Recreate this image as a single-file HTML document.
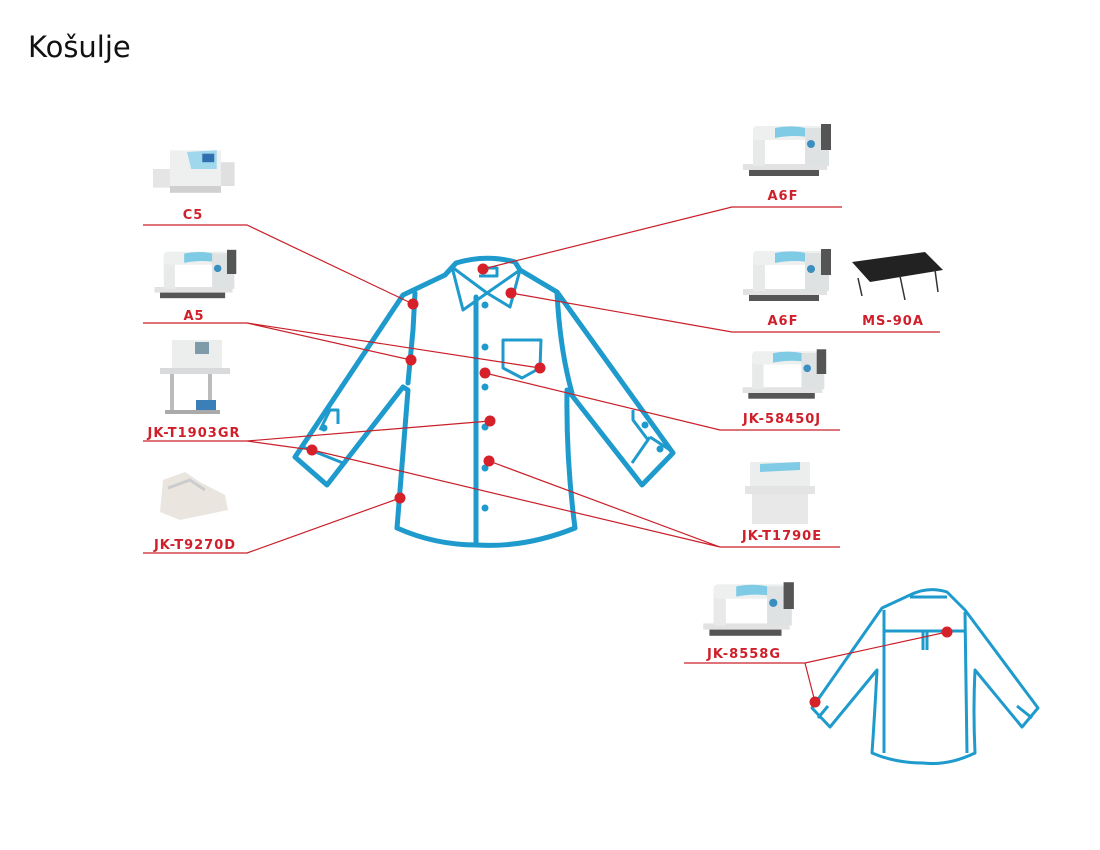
<!DOCTYPE html>
<html><head><meta charset="utf-8"><style>
html,body{margin:0;padding:0;background:#fff;width:1100px;height:850px;overflow:hidden}
svg{display:block}
.lbl{font-family:"DejaVu Sans","Liberation Sans",sans-serif;font-weight:bold;font-size:13px;fill:#cf1f2a;letter-spacing:1px;text-anchor:middle}
.ln{stroke:#c9202a;stroke-width:1.2;fill:none}
.sh{stroke:#1e9bcc;stroke-width:5;fill:none;stroke-linejoin:round;stroke-linecap:round}
.sh2{stroke:#1e9bcc;stroke-width:3;fill:none;stroke-linejoin:round}
.dot{fill:#d6202a}
.bt{fill:#1e9bcc}
</style></head><body>
<svg width="1100" height="850" viewBox="0 0 1100 850" xmlns="http://www.w3.org/2000/svg">
<defs>
<symbol id="sm" viewBox="0 0 100 60">
 <rect x="8" y="44" width="84" height="6" fill="#e2e2e2"/>
 <rect x="14" y="50" width="70" height="6" fill="#555"/>
 <rect x="18" y="10" width="12" height="36" fill="#e8eaea"/>
 <rect x="18" y="6" width="70" height="14" rx="4" fill="#eef0f0"/>
 <path d="M40 8 Q60 4 78 10 L78 18 Q60 14 40 18Z" fill="#7fcbe6"/>
 <rect x="70" y="8" width="24" height="38" fill="#dfe2e3"/>
 <circle cx="76" cy="24" r="4" fill="#3b8fc0"/>
 <rect x="86" y="4" width="10" height="26" fill="#555"/>
</symbol>
<symbol id="ov" viewBox="0 0 100 60">
 <rect x="0" y="30" width="40" height="22" fill="#e5e5e5"/>
 <rect x="20" y="8" width="60" height="42" fill="#eef0f0"/>
 <path d="M40 10 L75 8 L75 30 L45 30Z" fill="#9fd7ec"/>
 <rect x="58" y="12" width="14" height="10" fill="#2f6fb0"/>
 <rect x="80" y="22" width="16" height="28" fill="#e0e0e0"/>
 <rect x="20" y="50" width="60" height="8" fill="#d0d0d0"/>
</symbol>
</defs>

<text x="28" y="57" font-family="DejaVu Sans,Liberation Sans,sans-serif" font-size="29" fill="#111">Košulje</text>

<use href="#ov" x="153" y="143" width="85" height="52"/>
<use href="#sm" x="147" y="245" width="93" height="58"/>
<g>
 <rect x="172" y="340" width="50" height="28" fill="#eceeee"/>
 <rect x="195" y="342" width="14" height="12" fill="#7f9aa8"/>
 <rect x="160" y="368" width="70" height="6" fill="#d8dadb"/>
 <rect x="170" y="374" width="4" height="36" fill="#bbb"/>
 <rect x="208" y="374" width="4" height="36" fill="#bbb"/>
 <rect x="196" y="400" width="20" height="14" fill="#3a7fb8"/>
 <rect x="165" y="410" width="55" height="4" fill="#aaa"/>
</g>
<g>
 <path d="M163 480 L185 472 L200 482 L225 495 L228 510 L180 520 L160 512Z" fill="#eae6df"/>
 <path d="M168 488 L190 480 L205 490" stroke="#ccc" stroke-width="3" fill="none"/>
</g>
<use href="#sm" x="735" y="120" width="100" height="60"/>
<use href="#sm" x="735" y="245" width="100" height="60"/>
<g>
 <path d="M852 262 L925 252 L943 270 L870 282Z" fill="#222"/>
 <path d="M858 278 L862 296 M900 276 L905 300 M935 270 L938 292" stroke="#333" stroke-width="1.5"/>
</g>
<use href="#sm" x="735" y="345" width="95" height="58"/>
<g>
 <rect x="750" y="462" width="60" height="24" fill="#eceeee"/>
 <path d="M760 464 L800 462 L800 470 L760 472Z" fill="#7fcbe6"/>
 <rect x="745" y="486" width="70" height="8" fill="#e4e4e4"/>
 <rect x="752" y="494" width="56" height="30" fill="#e8e8e8"/>
</g>
<use href="#sm" x="695" y="578" width="103" height="62"/>

<text class="lbl" x="193" y="219">C5</text>
<text class="lbl" x="194" y="320">A5</text>
<text class="lbl" x="194" y="437">JK-T1903GR</text>
<text class="lbl" x="195" y="549">JK-T9270D</text>
<text class="lbl" x="783" y="200">A6F</text>
<text class="lbl" x="783" y="325">A6F</text>
<text class="lbl" x="893" y="325">MS-90A</text>
<text class="lbl" x="782" y="423">JK-58450J</text>
<text class="lbl" x="782" y="540">JK-T1790E</text>
<text class="lbl" x="744" y="658">JK-8558G</text>

<g class="sh">
 <path d="M456 263 Q486 254 515 262 L520 270 L557 292 L673 453 L642 485 L570 393 L567 390 Q566 460 575 528 Q525 548 477 545 Q435 545 397 528 L408 390 L403 387 L327 485 L295 457 L403 295 L445 275 Z"/>
 <path d="M415 293 L413 330 L408 383"/>
 <path d="M557 293 Q560 350 572 393"/>
 <path d="M476 297 L476 543"/>
</g>
<g class="sh2">
 <path d="M452 267 L463 310 L487 293 L510 307 L520 270"/>
 <path d="M452 267 L487 293 M520 270 L487 293"/>
 <path d="M479 268 L497 268 L497 276 L479 276"/>
 <path d="M503 340 L541 340 L540 368 L522 378 L503 368 Z"/>
 <path d="M320 430 L330 410 L338 410 L338 424 M303 447 L343 463"/>
 <path d="M632 463 L650 437 M650 437 L670 450 M633 410 L633 420 L648 440"/>
</g>
<g class="bt">
 <circle cx="485" cy="305" r="3.5"/><circle cx="485" cy="347" r="3.5"/><circle cx="485" cy="387" r="3.5"/>
 <circle cx="485" cy="427" r="3.5"/><circle cx="485" cy="468" r="3.5"/><circle cx="485" cy="508" r="3.5"/>
 <circle cx="324" cy="428" r="3.5"/><circle cx="645" cy="425" r="3.5"/><circle cx="660" cy="449" r="3.5"/>
</g>

<g class="sh2">
 <path d="M910 595 Q928 586 947 592 L965 610 L1038 708 L1022 727 L975 670 Q973 710 975 753 Q948 766 923 763 Q895 763 872 753 Q875 710 877 670 L830 727 L812 708 L882 608 Z"/>
 <path d="M910 597 L947 597"/>
 <path d="M884 610 L884 753 M965 612 L967 753"/>
 <path d="M884 631 L965 631 M923 632 L923 650 M927 632 L927 650"/>
 <path d="M818 718 L828 706 M1017 706 L1032 718"/>
</g>

<g class="ln">
 <path d="M143 225 L247 225 L413 304"/>
 <path d="M143 323 L247 323 L411 360 M247 323 L540 368"/>
 <path d="M143 441 L247 441 L490 421 M247 441 L312 450"/>
 <path d="M143 553 L247 553 L400 498"/>
 <path d="M842 207 L732 207 L483 269"/>
 <path d="M940 332 L732 332 L511 293"/>
 <path d="M840 430 L720 430 L485 373"/>
 <path d="M840 547 L720 547 L489 461 M720 547 L312 450"/>
 <path d="M684 663 L805 663 L947 632 M805 663 L815 702"/>
</g>
<g class="dot">
 <circle cx="483" cy="269" r="5.5"/><circle cx="413" cy="304" r="5.5"/><circle cx="511" cy="293" r="5.5"/>
 <circle cx="411" cy="360" r="5.5"/><circle cx="540" cy="368" r="5.5"/><circle cx="485" cy="373" r="5.5"/>
 <circle cx="490" cy="421" r="5.5"/><circle cx="312" cy="450" r="5.5"/><circle cx="489" cy="461" r="5.5"/>
 <circle cx="400" cy="498" r="5.5"/><circle cx="947" cy="632" r="5.5"/><circle cx="815" cy="702" r="5.5"/>
</g>
</svg>
</body></html>
